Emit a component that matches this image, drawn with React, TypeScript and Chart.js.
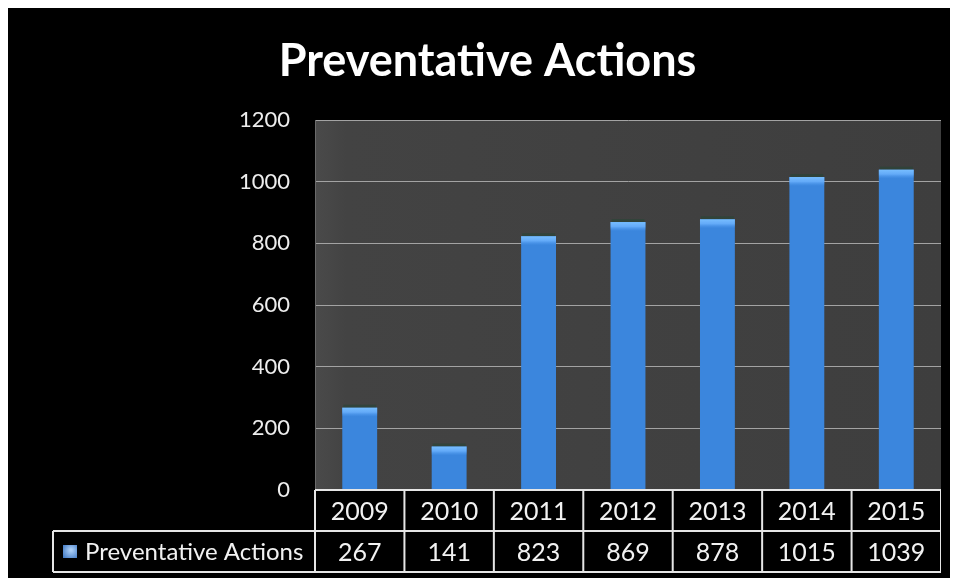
import { useEffect, useRef } from "react";
import { Chart, registerables } from "chart.js";

Chart.register(...registerables);

const TITLE = "Preventative Actions";
const SERIES_NAME = "Preventative Actions";
const YEARS = ["2009", "2010", "2011", "2012", "2013", "2014", "2015"];
const VALUES = [267, 141, 823, 869, 878, 1015, 1039];
const Y_MIN = 0;
const Y_MAX = 1200;
const Y_STEP = 200;

const FONT = "Lato, 'Open Sans', sans-serif";

const plotBackground = {
  id: "plotBackground",
  beforeDraw(chart: any) {
    const { ctx, chartArea: a } = chart;
    ctx.save();
    const g = ctx.createLinearGradient(a.left, 0, a.right, 0);
    g.addColorStop(0, "#4a4a4a");
    g.addColorStop(0.05, "#434343");
    g.addColorStop(1, "#3e3e3e");
    ctx.fillStyle = g;
    ctx.fillRect(a.left, a.top, a.right - a.left, a.bottom - a.top);
    ctx.restore();
  },
};

const barStyle = {
  id: "barStyle",
  afterDatasetsDraw(chart: any) {
    const { ctx } = chart;
    const meta = chart.getDatasetMeta(0);
    ctx.save();
    meta.data.forEach((bar: any) => {
      const w = bar.width;
      const left = bar.x - w / 2;
      const top = bar.y;
      // faint shadow above
      ctx.fillStyle = "rgba(30,70,50,0.45)";
      ctx.fillRect(left + 1, top - 3, w - 2, 3);
      // top cap highlight
      const cap = ctx.createLinearGradient(0, top, 0, top + 9);
      cap.addColorStop(0, "rgba(120,190,255,1)");
      cap.addColorStop(0.5, "rgba(110,180,255,0.8)");
      cap.addColorStop(1, "rgba(80,155,240,0)");
      ctx.fillStyle = cap;
      ctx.fillRect(left, top, w, 9);
    });
    ctx.restore();
  },
};

const dataTable = {
  id: "dataTable",
  afterDraw(chart: any) {
    const { ctx, chartArea: a } = chart;
    const xs = chart.scales.x;
    const n = YEARS.length;
    const colW = (a.right - a.left) / n;
    const rowH = 41;
    const r1 = a.bottom;
    const r2 = r1 + rowH;
    const r3 = r2 + rowH;
    const legendLeft = 45;
    ctx.save();
    ctx.strokeStyle = "#e6e6e6";
    ctx.lineWidth = 2;
    ctx.beginPath();
    ctx.moveTo(a.left, r1);
    ctx.lineTo(a.right, r1);
    ctx.moveTo(legendLeft, r2);
    ctx.lineTo(a.right, r2);
    ctx.moveTo(legendLeft, r3);
    ctx.lineTo(a.right, r3);
    ctx.moveTo(legendLeft, r2);
    ctx.lineTo(legendLeft, r3);
    for (let i = 0; i <= n; i++) {
      const x = a.left + i * colW;
      ctx.moveTo(x, r1);
      ctx.lineTo(x, r3);
    }
    ctx.stroke();

    ctx.fillStyle = "#f2f2f2";
    ctx.font = `25px ${FONT}`;
    ctx.textAlign = "center";
    ctx.textBaseline = "middle";
    YEARS.forEach((y, i) => {
      const cx = xs.getPixelForValue(i);
      ctx.fillText(y, cx, r1 + rowH / 2 + 1);
      ctx.fillText(String(VALUES[i]), cx, r2 + rowH / 2 + 1);
    });

    const sx = legendLeft + 10;
    const sy = r2 + 14;
    const sg = ctx.createRadialGradient(sx + 8, sy + 5, 1, sx + 8, sy + 6, 10);
    sg.addColorStop(0, "#a9cdf5");
    sg.addColorStop(1, "#3f78c4");
    ctx.fillStyle = sg;
    ctx.fillRect(sx, sy, 14, 13);

    ctx.fillStyle = "#f2f2f2";
    ctx.font = `24px ${FONT}`;
    ctx.textAlign = "left";
    ctx.fillText(SERIES_NAME, legendLeft + 32, r2 + rowH / 2 + 1);
    ctx.restore();
  },
};

export default function App() {
  const ref = useRef<HTMLCanvasElement | null>(null);

  useEffect(() => {
    const canvas = ref.current;
    if (!canvas) return;
    const chart = new Chart(canvas, {
      type: "bar",
      data: {
        labels: YEARS,
        datasets: [
          {
            label: SERIES_NAME,
            data: VALUES,
            backgroundColor: (c: any) => {
              const bar = c.element;
              if (!bar || bar.width === undefined || isNaN(bar.x)) return "#3b86dd";
              const l = bar.x - bar.width / 2;
              const g = c.chart.ctx.createLinearGradient(l, 0, l + bar.width, 0);
              g.addColorStop(0, "#2f73cc");
              g.addColorStop(0.45, "#4b9af0");
              g.addColorStop(0.6, "#4795ec");
              g.addColorStop(1, "#2d6ec6");
              return g;
            },
            borderWidth: 0,
            barPercentage: 0.39,
            categoryPercentage: 1,
          },
        ],
      },
      options: {
        responsive: false,
        animation: false,
        devicePixelRatio: 1,
        layout: { padding: { left: 26, right: 0, top: 0, bottom: 88 } },
        plugins: {
          legend: { display: false },
          tooltip: { enabled: false },
          title: {
            display: true,
            text: TITLE,
            color: "#ffffff",
            font: { family: FONT, size: 45, weight: "bold" },
            padding: { top: 26, bottom: 32 },
          },
        },
        scales: {
          x: {
            display: false,
            grid: { display: false },
          },
          y: {
            min: Y_MIN,
            max: Y_MAX,
            afterFit: (s: any) => {
              s.width = 281;
            },
            ticks: {
              stepSize: Y_STEP,
              color: "#ededed",
              font: { family: FONT, size: 22 },
              padding: 25,
              callback: (v: any) => String(v),
            },
            grid: {
              color: "#a3a3a3",
              lineWidth: 1,
              drawTicks: false,
            },
            border: { display: true, color: "#6a6a6a", width: 1 },
          },
        },
      },
      plugins: [plotBackground, barStyle, dataTable],
    });
    return () => chart.destroy();
  }, []);

  return (
    <div style={{ width: 949, height: 570, background: "#000", overflow: "hidden" }}>
      <canvas ref={ref} width={933} height={570} style={{ display: "block" }} />
    </div>
  );
}
